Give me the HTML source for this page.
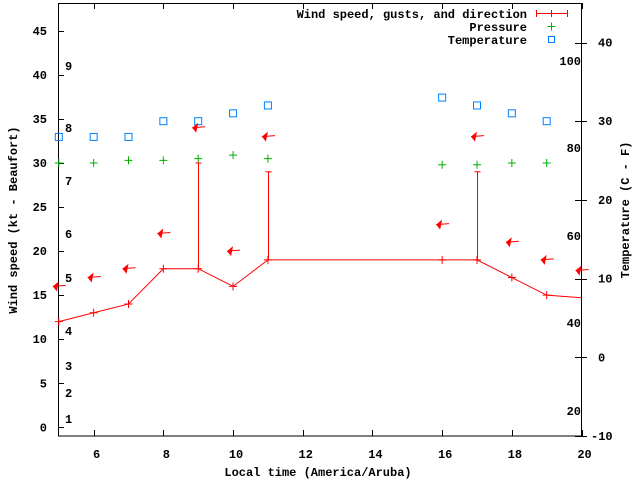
<!DOCTYPE html>
<html><head><meta charset="utf-8"><style>
body{margin:0;background:#fff}
svg text{font-family:"Liberation Mono",monospace;font-size:12px;font-weight:bold;fill:#000}
</style></head><body>
<svg id="chart" width="640" height="480" xmlns="http://www.w3.org/2000/svg">
<rect x="58.5" y="3.5" width="523" height="432.5" fill="none" stroke="#000"/>
<g id="axes"></g><g id="marks"></g>
<text x="318" y="476" text-anchor="middle">Local time (America/Aruba)</text>
<text transform="translate(17,220) rotate(-90)" text-anchor="middle">Wind speed (kt - Beaufort)</text>
<text transform="translate(629,210) rotate(-90)" text-anchor="middle">Temperature (C - F)</text>
<g>
<text x="527" y="18" text-anchor="end">Wind speed, gusts, and direction</text>
<line x1="536" y1="13.5" x2="568" y2="13.5" stroke="red"/><line x1="536.5" y1="10" x2="536.5" y2="17" stroke="red"/><line x1="567.5" y1="10" x2="567.5" y2="17" stroke="red"/><line x1="551.5" y1="10" x2="551.5" y2="17" stroke="red"/>
<text x="527" y="31" text-anchor="end">Pressure</text>
<path d="M547.5 26.5h8M551.5 22.5v8" stroke="#00b000"/>
<text x="527" y="44" text-anchor="end">Temperature</text>
<rect x="548.5" y="36.5" width="6" height="6" fill="none" stroke="#0080ff"/>
</g>
</svg>
<script>
const hours=[5,6,7,8,9,10,11,16,17,18,19,20];
const wind=[12,13,14,18,18,16,19,19,19,17,15,14.7];
const gustHours=[9,11,17];
const gusts=[30,29,29];
const pHours=[5,6,7,8,9,10,11,16,17,18,19];
const pressure=[30.0,30.0,30.3,30.3,30.5,30.9,30.5,29.8,29.8,30.0,30.0];
const tempC=[28,28,28,30,30,31,32,33,32,31,30];
const dirY=[16,17,18,22,34,20,33,23,33,21,19,17.8];
const xTicks=[6,8,10,12,14,16,18,20];
const yTicks=[0,5,10,15,20,25,30,35,40,45];
const cTicks=[-10,0,10,20,30,40];
const fLabels=[["100",61],["80",148],["60",236],["40",323],["20",411]];
const bft=[["9",66],["8",128],["7",181],["6",234],["5",278],["4",331],["3",366],["2",393],["1",419]];
const NS="http://www.w3.org/2000/svg";
const X=h=>58.8+(h-5)*34.85, Y=v=>427.3-v*8.81, YC=c=>436-(c+10)*7.87;
const ax=document.getElementById('axes'), mk=document.getElementById('marks');
function mkEl(t,a,p){const e=document.createElementNS(NS,t);for(const k in a)e.setAttribute(k,a[k]);p.appendChild(e);return e;}
xTicks.forEach(t=>{const x=Math.round(X(t))+0.5;
 const l=mkEl('path',{d:`M${x} 436v-6M${x} 3v6`,stroke:'#000'},ax);
 
 
 const s=mkEl('text',{x:X(t)+3,y:458,'text-anchor':'middle'},ax);s.textContent=t;
 
 });
yTicks.forEach(t=>{const y=Math.round(Y(t))+0.5;
 const l=mkEl('path',{d:`M58 ${y}h6`,stroke:'#000'},ax);
 
 
 const s=mkEl('text',{x:47,y:Y(t)+4,'text-anchor':'end'},ax);s.textContent=t;
 
 });
cTicks.forEach(t=>{const y=Math.round(YC(t))+0.5;
 const l=mkEl('path',{d:`M581 ${y}h-6M581 ${y}h6`,stroke:'#000'},ax);
 
 
 const s=mkEl('text',{x:t<0?591:598,y:YC(t)+4,'text-anchor':'start'},ax);s.textContent=t;
 
 });
fLabels.forEach(f=>{const s=mkEl('text',{x:581,y:f[1]+4,'text-anchor':'end'},ax);s.textContent=f[0];
 
 });
bft.forEach(b=>{const s=mkEl('text',{x:65,y:b[1]+4},ax);s.textContent=b[0];
 
 });
const pl=mkEl('polyline',{points:hours.map((h,i)=>`${X(h)},${Y(wind[i])}`).join(' '),fill:'none',stroke:'red'},mk);


hours.slice(0,-1).forEach((h,i)=>{const p=mkEl('path',{d:`M${X(h)-4} ${Y(wind[i])}h8M${X(h)} ${Y(wind[i])-4}v8`,stroke:'red'},mk);
 
 });
gustHours.forEach((h,i)=>{const w=wind[hours.indexOf(h)];const x=Math.round(X(h))+0.5;
 const p=mkEl('path',{d:`M${x} ${Y(w)}V${Y(gusts[i])}M${x-3} ${Y(gusts[i])}h6`,stroke:'red'},mk);
 
 });
pHours.forEach((h,i)=>{const x=X(h),y=Y(pressure[i]);
 const p=mkEl('path',{d:`M${x-4} ${y}h8M${x} ${y-4}v8`,stroke:'#00b000'},mk);
 
 });
pHours.forEach((h,i)=>{const r=mkEl('rect',{x:X(h)-3.5,y:YC(tempC[i])-3.5,width:7,height:7,fill:'none',stroke:'#0080ff'},mk);
 
 });
hours.forEach((h,i)=>{const x=X(h)-6,y=Y(dirY[i]);
 const g=mkEl('g',{},mk);
 
 
 mkEl('line',{x1:x,y1:y,x2:x+13,y2:y-1,stroke:'red'},g);
 mkEl('polygon',{points:`${x},${y} ${x+6},${y-5} ${x+4},${y+5}`,fill:'red'},g);});
</script>
</body></html>
